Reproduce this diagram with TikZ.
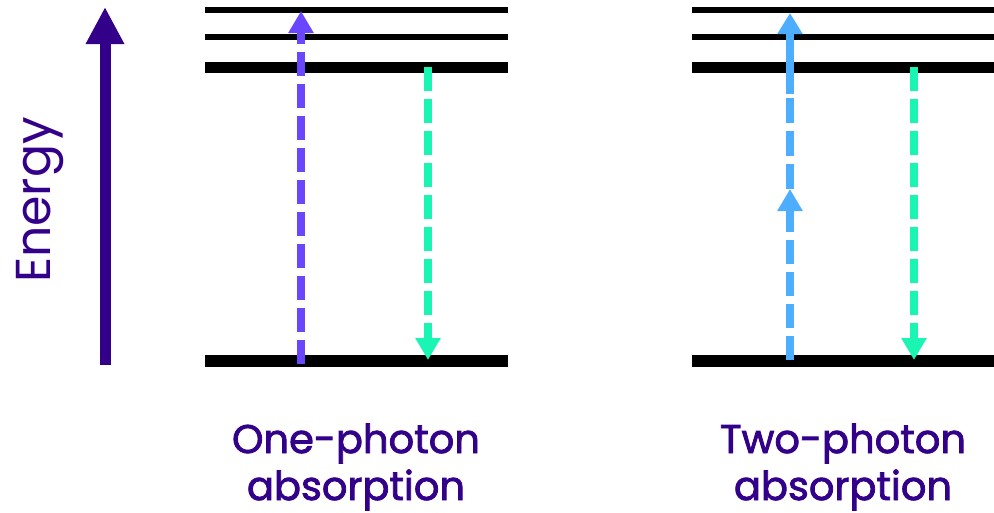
\documentclass[tikz,border=0pt]{standalone}
\usepackage{fontspec}
\setmainfont{Poppins}
\newfontfamily\labelfont{Poppins}[FakeBold=2]
\usetikzlibrary{arrows.meta}
\definecolor{ink}{HTML}{33008A}
\definecolor{violetarrow}{HTML}{6A47FF}
\definecolor{mint}{HTML}{1AF5B4}
\definecolor{skyarrow}{HTML}{4DADFF}
\tikzset{
  level/.style={line width=#1, black},
  photon/.style={line width=8pt, dash pattern=on 24pt off 8pt, -{Triangle[width=24pt,length=22pt]}},
  lab/.style={font=\labelfont\fontsize{40}{40}\selectfont, text=ink, anchor=base, inner sep=0pt},
}
\begin{document}
\begin{tikzpicture}[x=1pt,y=-1pt]
\useasboundingbox (0,0) rectangle (994,512);
% coordinates of levels
\coordinate (L1a) at (205,9.5);  \coordinate (L1b) at (508,9.5);
\coordinate (L2a) at (205,37);   \coordinate (L2b) at (508,37);
\coordinate (L3a) at (205,67.5); \coordinate (L3b) at (508,67.5);
\coordinate (L0a) at (205,361);  \coordinate (L0b) at (508,361);
\coordinate (R1a) at (692,9.5);  \coordinate (R1b) at (994,9.5);
\coordinate (R2a) at (692,37);   \coordinate (R2b) at (994,37);
\coordinate (R3a) at (692,67.5); \coordinate (R3b) at (994,67.5);
\coordinate (R0a) at (692,361);  \coordinate (R0b) at (994,361);
\draw[level=6pt] (L1a) -- (L1b);
\draw[level=6pt] (L2a) -- (L2b);
\draw[level=11.5pt] (L3a) -- (L3b);
\draw[level=12pt] (L0a) -- (L0b);
\draw[level=6pt] (R1a) -- (R1b);
\draw[level=6pt] (R2a) -- (R2b);
\draw[level=11.5pt] (R3a) -- (R3b);
\draw[level=12pt] (R0a) -- (R0b);
% energy axis
\coordinate (Ebot) at (105,365);
\coordinate (Etop) at (105,7);
\draw[ink, line width=11pt, -{Triangle[width=36pt,length=37pt]}] (Ebot) -- (Etop);
\node[font=\fontsize{49}{49}\selectfont, text=ink, rotate=90, anchor=base, inner sep=0pt] (energy) at (50,200) {Energy};
% one-photon
\coordinate (p1s) at (301,364);
\coordinate (p1e) at (301,11);
\draw[photon, violetarrow] (p1s) -- (p1e);
\coordinate (g1s) at (428,67);
\coordinate (g1e) at (428,360);
\draw[photon, mint] (g1s) -- (g1e);
% two-photon
\coordinate (b1s) at (790,360);
\coordinate (bmid) at (790,189);
\coordinate (bsolid) at (790,94);
\coordinate (btop) at (790,13);
\draw[photon, skyarrow] (b1s) -- (bmid);
\draw[line width=8pt, skyarrow, dash pattern=on 25pt off 8pt] (bmid) -- (bsolid);
\draw[line width=8pt, skyarrow, -{Triangle[width=24pt,length=21pt]}] (bsolid) -- (btop);
\coordinate (g2s) at (914,67);
\coordinate (g2e) at (914,360);
\draw[photon, mint] (g2s) -- (g2e);
% labels
\node[lab] (one1) at (356,453) {One-photon};
\node[lab] (one2) at (356,500) {absorption};
\node[lab] (two1) at (843,453) {Two-photon};
\node[lab] (two2) at (843,500) {absorption};
\end{tikzpicture}
\end{document}
